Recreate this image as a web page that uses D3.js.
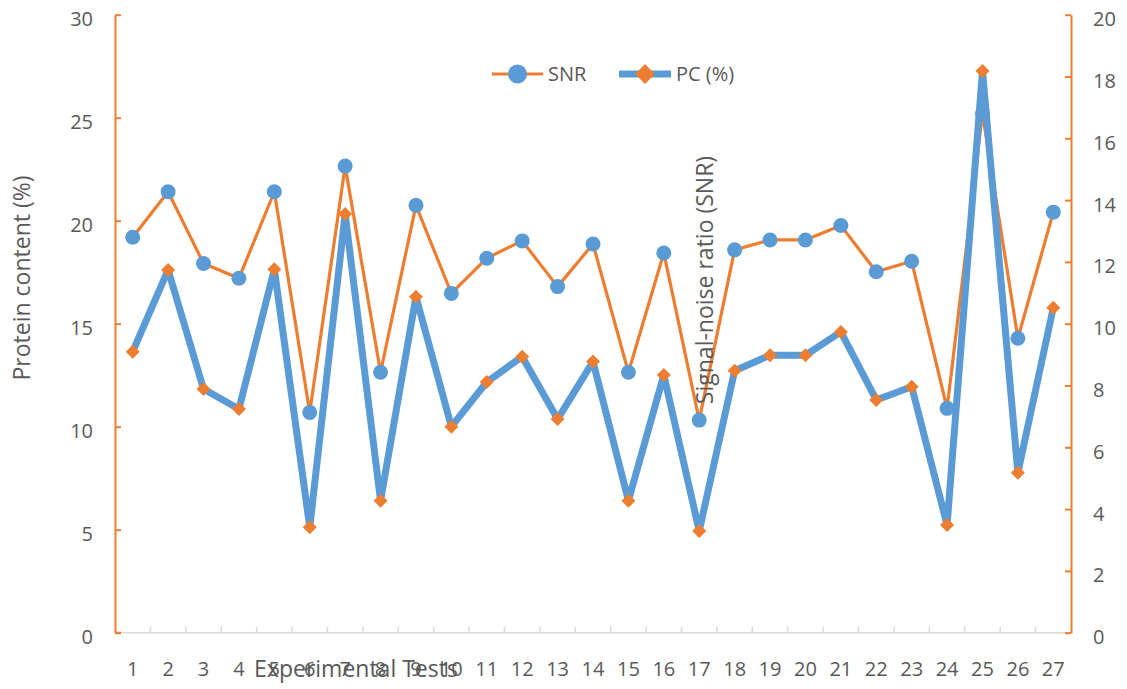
<!DOCTYPE html>
<html>
<head>
<meta charset="utf-8">
<script src="https://cdn.jsdelivr.net/npm/d3@7"></script>
<style>
  html, body { margin: 0; padding: 0; background: #fff; }
  svg { display: block; }
  text { font-family: "Open Sans", "Noto Sans", sans-serif; fill: #595959; }
</style>
</head>
<body>
<svg id="chart" width="1127" height="689"></svg>
<script>
const categories = ["1","2","3","4","5","6","7","8","9","10","11","12","13","14","15","16","17","18","19","20","21","22","23","24","25","26","27"];
const snrValues = [12.80,14.27,11.95,11.47,14.27,7.13,15.10,8.43,13.83,10.98,12.12,12.68,11.20,12.58,8.43,12.29,6.88,12.39,12.71,12.71,13.18,11.68,12.02,7.26,16.81,9.53,13.61];
const pcValues = [13.64,17.61,11.83,10.86,17.64,5.12,20.33,6.41,16.31,10.00,12.17,13.40,10.37,13.16,6.41,12.51,4.94,12.72,13.47,13.47,14.60,11.30,11.94,5.23,27.27,7.77,15.78];
const leftTicks = [0,5,10,15,20,25,30];
const rightTicks = [0,2,4,6,8,10,12,14,16,18,20];
const seriesNames = ["SNR", "PC (%)"];
const titles = { left: "Protein content (%)", right: "Signal-noise ratio (SNR)", bottom: "Experimental Tests" };

const ORANGE = "#ED7D31", BLUE = "#5B9BD5", GRAY = "#595959", AXISGRAY = "#D9D9D9";
const svg = d3.select("#chart");
const plot = { left: 115, right: 1071, top: 14.7, bottom: 632.7 };

const x = d3.scaleBand().domain(categories).range([plot.left, plot.right]).padding(0);
const cx = d => x(d) + x.bandwidth() / 2;
const yL = d3.scaleLinear().domain([0, 30]).range([plot.bottom, plot.top]);
const yR = d3.scaleLinear().domain([0, 20]).range([plot.bottom, plot.top]);

// X axis baseline + boundary ticks
svg.append("line").attr("x1", plot.left).attr("x2", plot.right)
  .attr("y1", plot.bottom).attr("y2", plot.bottom)
  .attr("stroke", AXISGRAY).attr("stroke-width", 1.5);
svg.append("g").selectAll("line").data(categories.slice(1)).join("line")
  .attr("x1", d => x(d)).attr("x2", d => x(d))
  .attr("y1", plot.bottom).attr("y2", plot.bottom - 6)
  .attr("stroke", AXISGRAY).attr("stroke-width", 1.5);
const xAxis = d3.axisBottom(x).tickSize(0).tickPadding(29);
const gx = svg.append("g").attr("transform", `translate(0,${plot.bottom})`).call(xAxis);
gx.select(".domain").remove();
gx.selectAll("text").attr("font-size", 20).attr("fill", GRAY)
  .style("font-family", '"Open Sans", sans-serif');

// Left axis
const gl = svg.append("g").attr("transform", `translate(${plot.left},0)`)
  .call(d3.axisLeft(yL).tickValues(leftTicks).tickSize(-6).tickPadding(22).tickSizeOuter(0));
gl.select(".domain").attr("stroke", ORANGE).attr("stroke-width", 2);
gl.selectAll(".tick line").attr("stroke", ORANGE).attr("stroke-width", 2);
gl.selectAll("text").attr("font-size", 20).attr("fill", GRAY).attr("dy", "0.55em")
  .style("font-family", '"Open Sans", sans-serif');
gl.append("line").attr("x1", 0).attr("x2", 6).attr("y1", plot.bottom).attr("y2", plot.bottom)
  .attr("stroke", ORANGE).attr("stroke-width", 2);

// Right axis
const gr = svg.append("g").attr("transform", `translate(${plot.right},0)`)
  .call(d3.axisRight(yR).tickValues(rightTicks).tickSize(-6).tickPadding(22).tickSizeOuter(0));
gr.select(".domain").attr("stroke", ORANGE).attr("stroke-width", 2);
gr.selectAll(".tick line").attr("stroke", ORANGE).attr("stroke-width", 2);
gr.selectAll("text").attr("font-size", 20).attr("fill", GRAY).attr("dy", "0.55em")
  .style("font-family", '"Open Sans", sans-serif');

// SNR series (right axis)
const lineR = d3.line().x((d, i) => cx(categories[i])).y(d => yR(d));
svg.append("path").datum(snrValues).attr("d", lineR)
  .attr("fill", "none").attr("stroke", ORANGE).attr("stroke-width", 3.2).attr("stroke-linejoin", "round");
svg.append("g").selectAll("circle").data(snrValues).join("circle")
  .attr("cx", (d, i) => cx(categories[i])).attr("cy", d => yR(d)).attr("r", 7.5).attr("fill", BLUE);

// PC series (left axis)
const lineL = d3.line().x((d, i) => cx(categories[i])).y(d => yL(d));
svg.append("path").datum(pcValues).attr("d", lineL)
  .attr("fill", "none").attr("stroke", BLUE).attr("stroke-width", 7).attr("stroke-linejoin", "round");
const diamond = s => `M0,${-s}L${s},0L0,${s}L${-s},0Z`;
svg.append("g").selectAll("path").data(pcValues).join("path")
  .attr("transform", (d, i) => `translate(${cx(categories[i])},${yL(d)})`)
  .attr("d", diamond(7)).attr("fill", ORANGE);

// Legend
const lg = svg.append("g");
lg.append("line").attr("x1", 492).attr("x2", 543).attr("y1", 74).attr("y2", 74)
  .attr("stroke", ORANGE).attr("stroke-width", 3.2);
lg.append("circle").attr("cx", 517.5).attr("cy", 74).attr("r", 9.5).attr("fill", BLUE);
lg.append("text").attr("x", 548).attr("y", 74).attr("dy", "0.35em").attr("font-size", 20).text(seriesNames[0]);
lg.append("line").attr("x1", 619).attr("x2", 671).attr("y1", 74).attr("y2", 74)
  .attr("stroke", BLUE).attr("stroke-width", 7);
lg.append("path").attr("transform", "translate(645,74)").attr("d", diamond(10)).attr("fill", ORANGE);
lg.append("text").attr("x", 676).attr("y", 74).attr("dy", "0.35em").attr("font-size", 20).text(seriesNames[1]);

// Axis titles
svg.append("text").attr("transform", "translate(22,278) rotate(-90)")
  .attr("text-anchor", "middle").attr("dy", "0.35em").attr("font-size", 23).text(titles.left);
svg.append("text").attr("transform", "translate(705,280) rotate(-90)")
  .attr("text-anchor", "middle").attr("dy", "0.35em").attr("font-size", 23).text(titles.right);
svg.append("text").attr("x", 356).attr("y", 669)
  .attr("text-anchor", "middle").attr("dy", "0.35em").attr("font-size", 23).text(titles.bottom);
</script>
</body>
</html>
